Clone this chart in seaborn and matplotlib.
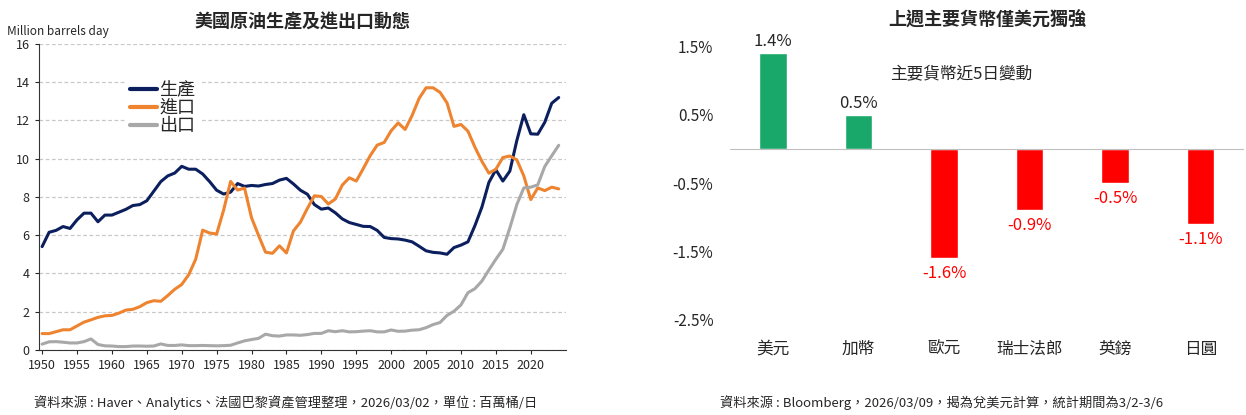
import numpy as np
import pandas as pd
import matplotlib
matplotlib.use("Agg")
import matplotlib.pyplot as plt
import seaborn as sns

sns.set_style("white")
plt.rcParams['font.family'] = ['Noto Sans CJK TC', 'DejaVu Sans']

# data
years = list(range(1950, 2025))
production = [5.4, 6.15, 6.25, 6.45, 6.35, 6.8, 7.15, 7.15, 6.7, 7.05,
              7.05, 7.2, 7.35, 7.55, 7.6, 7.8, 8.3, 8.8, 9.1, 9.25,
              9.6, 9.45, 9.45, 9.2, 8.8, 8.35, 8.15, 8.25, 8.7, 8.55,
              8.6, 8.57, 8.65, 8.7, 8.88, 8.97, 8.68, 8.35, 8.14, 7.6,
              7.36, 7.42, 7.17, 6.85, 6.66, 6.56, 6.46, 6.45, 6.25, 5.88,
              5.82, 5.8, 5.74, 5.65, 5.42, 5.18, 5.1, 5.07, 5.0, 5.35,
              5.48, 5.65, 6.5, 7.47, 8.76, 9.42, 8.83, 9.35, 10.95, 12.3,
              11.3, 11.28, 11.9, 12.9, 13.2]
imports = [0.85, 0.85, 0.95, 1.05, 1.05, 1.25, 1.45, 1.57, 1.7, 1.78,
           1.8, 1.92, 2.08, 2.12, 2.26, 2.47, 2.57, 2.54, 2.84, 3.17,
           3.42, 3.93, 4.74, 6.26, 6.11, 6.06, 7.31, 8.81, 8.36, 8.46,
           6.91, 5.99, 5.11, 5.05, 5.44, 5.07, 6.22, 6.68, 7.40, 8.06,
           8.02, 7.63, 7.89, 8.62, 9.0, 8.83, 9.48, 10.16, 10.71, 10.85,
           11.46, 11.87, 11.53, 12.26, 13.15, 13.71, 13.71, 13.47, 12.92, 11.69,
           11.79, 11.44, 10.6, 9.86, 9.24, 9.45, 10.06, 10.14, 9.94, 9.1,
           7.86, 8.47, 8.33, 8.51, 8.42]
exports = [0.3, 0.42, 0.43, 0.4, 0.36, 0.36, 0.43, 0.57, 0.28, 0.21,
           0.2, 0.17, 0.17, 0.2, 0.2, 0.19, 0.2, 0.31, 0.23, 0.23,
           0.26, 0.22, 0.22, 0.23, 0.22, 0.21, 0.22, 0.24, 0.36, 0.47,
           0.54, 0.6, 0.82, 0.74, 0.72, 0.78, 0.78, 0.76, 0.8, 0.86,
           0.86, 1.0, 0.95, 1.0, 0.94, 0.95, 0.98, 1.0, 0.94, 0.94,
           1.04, 0.97, 0.98, 1.03, 1.05, 1.16, 1.32, 1.43, 1.8, 2.02,
           2.35, 2.99, 3.2, 3.6, 4.18, 4.74, 5.26, 6.38, 7.6, 8.47,
           8.51, 8.63, 9.59, 10.15, 10.7]

currencies = ['美元', '加幣', '歐元', '瑞士法郎', '英鎊', '日圓']
changes = [1.4, 0.5, -1.6, -0.9, -0.5, -1.1]

fig = plt.figure(figsize=(12.46, 4.15), dpi=100)

# left chart
ax1 = fig.add_axes([0.031, 0.157, 0.423, 0.737])
oil = pd.DataFrame({'year': years, '生產': production, '進口': imports, '出口': exports})
oil = oil.melt(id_vars='year', var_name='series', value_name='value')
sns.lineplot(data=oil, x='year', y='value', hue='series', ax=ax1,
             palette={'生產': '#0b1f5e', '進口': '#ee8430', '出口': '#a8a8a8'},
             linewidth=2.2)
ax1.set_xlim(1949.5, 2025)
ax1.set_ylim(0, 16)
ax1.set_xticks(range(1950, 2025, 5))
ax1.set_yticks(range(0, 17, 2))
ax1.tick_params(labelsize=9, length=3, direction='out', bottom=True, left=True)
ax1.yaxis.grid(True, linestyle=(0, (3, 2)), color='#c8c8c8', linewidth=0.9)
ax1.set_axisbelow(True)
for s in ['top', 'right']:
    ax1.spines[s].set_visible(False)
for s in ['left', 'bottom']:
    ax1.spines[s].set_color('#333333')
ax1.set_xlabel('')
ax1.set_ylabel('')
leg = ax1.legend(loc='upper left', bbox_to_anchor=(0.15, 0.92), fontsize=13,
                 frameon=True, handlelength=1.5, handletextpad=0.1,
                 labelspacing=0.0, borderpad=0.2)
leg.get_frame().set_facecolor('white')
leg.get_frame().set_edgecolor('white')
leg.get_frame().set_alpha(1)
for line in leg.get_lines():
    line.set_linewidth(3)
ax1.text(-0.06, 1.03, 'Million barrels day', transform=ax1.transAxes, fontsize=8.5)
ax1.set_title('美國原油生產及進出口動態', fontsize=13, fontweight='bold', pad=12)
fig.text(0.027, 0.02, '資料來源 : Haver、Analytics、法國巴黎資產管理整理，2026/03/02，單位 : 百萬桶/日',
         fontsize=9.5)

# right chart
ax2 = fig.add_axes([0.586, 0.205, 0.412, 0.699])
fx = pd.DataFrame({'currency': currencies, 'change': changes})
colors = ['#19a86a' if v > 0 else '#ff0000' for v in changes]
sns.barplot(data=fx, x='currency', y='change', hue='currency', palette=colors,
            legend=False, width=0.32, ax=ax2, saturation=1)
ax2.set_xlim(-0.5, 5.5)
ax2.set_ylim(-2.65, 1.6)
ax2.set_yticks([1.5, 0.5, -0.5, -1.5, -2.5])
ax2.set_yticklabels(['1.5%', '0.5%', '-0.5%', '-1.5%', '-2.5%'])
ax2.axhline(0, color='#bfbfbf', linewidth=0.8)
for s in ax2.spines.values():
    s.set_visible(False)
ax2.tick_params(axis='y', labelsize=11, length=0, pad=12)
ax2.tick_params(axis='x', labelsize=12, length=0, pad=8)
ax2.set_xlabel('')
ax2.set_ylabel('')
for i, v in enumerate(changes):
    if v > 0:
        ax2.text(i, v + 0.05, f'{v:.1f}%', ha='center', va='bottom', fontsize=12)
    else:
        ax2.text(i, v - 0.1, f'{v:.1f}%', ha='center', va='top', fontsize=12, color='#ff0000')
ax2.text(0.45, 0.88, '主要貨幣近5日變動', transform=ax2.transAxes, fontsize=12,
         ha='center', va='center')
ax2.set_title('上週主要貨幣僅美元獨強', fontsize=13, fontweight='bold', pad=10)
fig.text(0.578, 0.02, '資料來源 : Bloomberg，2026/03/09，揭為兌美元計算，統計期間為3/2-3/6',
         fontsize=9.5)

fig.savefig('out.png', dpi=100)
